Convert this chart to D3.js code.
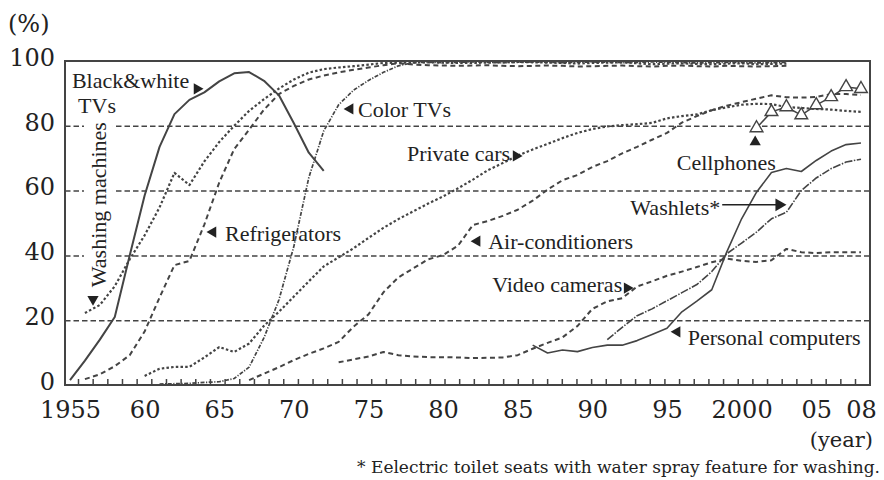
<!DOCTYPE html>
<html>
<head>
<meta charset="utf-8">
<script src="https://cdn.jsdelivr.net/npm/d3@7"></script>
<style>
  body { margin: 0; background: #fff; }
  svg text { fill: #222; }
</style>
</head>
<body>
<div id="chart"></div>
<script>
// ---- data (diffusion rate, %) ----
const firstYear = 1955;
const lastYear = 2008;
const yTicks = [0, 20, 40, 60, 80, 100];
const yearLabels = { 1955: "1955", 1960: "60", 1965: "65", 1970: "70", 1975: "75", 1980: "80",
                     1985: "85", 1990: "90", 1995: "95", 2000: "2000", 2005: "05", 2008: "08" };

const bwTvStart = 1955;
const bwTvValues = [1.5, 7.5, 14, 21, 40, 58.5, 73.5, 83.6, 88, 90.3, 93.7, 96.2, 96.6, 93.9,
  89.4, 80.8, 71.7, 66.1];

const washerStart = 1956;
const washerValues = [22.2, 24.7, 30.5, 38.8, 46.2, 54.8, 65.5, 61.7, 69, 75, 80, 84.6, 88.2,
  91.5, 94.3, 96.4, 97.5, 98, 98.4, 98.9, 99.4, 99.5, 99.5, 99.6, 99.5, 99.4, 99.4, 99.5, 99.6,
  99.7, 99.6, 99.5, 99.4, 99.2, 99.4, 99.5, 99.6, 99.3, 99.0, 99.2, 99.3, 99.1, 99.0, 99.2, 99.3,
  99.0, 99.1, 99.2];

const fridgeStart = 1956;
const fridgeValues = [1.8, 3.3, 5.8, 9.2, 16.5, 27, 37, 38.3, 49.5, 62.5, 72.8, 78.8, 85, 89.8,
  92.3, 94.3, 95.5, 96.5, 97.3, 98, 98.7, 99.3, 98.9, 98.7, 98.6, 98.5, 98.6, 98.7, 98.5, 98.4,
  98.5, 98.6, 98.5, 98.3, 98.4, 98.5, 98.6, 98.4, 98.3, 98.5, 98.6, 98.4, 98.3, 98.5, 98.4, 98.3,
  98.4, 98.5];

const colorTvStart = 1961;
const colorTvValues = [0.3, 0.4, 0.5, 0.8, 1, 2, 5.5, 14.6, 26.3, 42.8, 64, 78.4, 86.5, 91, 94,
  96.5, 98.5, 99.5, 99.6, 99.5, 99.6, 99.7, 99.6, 99.5, 99.6, 99.7, 99.6, 99.5, 99.6, 99.7, 99.6,
  99.5, 99.6, 99.7, 99.6, 99.5, 99.4, 99.5, 99.6, 99.5, 99.4, 99.5, 99.6];

const carStart = 1960;
const carValues = [2.8, 5, 5.6, 5.6, 8.5, 11.7, 10.2, 12.8, 18.3, 22.6, 27.3, 32, 36.6, 39.4,
  42.2, 45.4, 48.5, 51.2, 53.6, 56, 58.2, 60.7, 63.4, 66.3, 68.5, 70.8, 72.7, 74.4, 76.2, 77.8,
  79, 79.8, 80.2, 80.5, 80.9, 82.3, 83, 83.5, 84.8, 85.7, 86.5, 86.8, 86.7, 85.8, 85.5, 85.2, 85,
  84.6, 84.3];

const airconStart = 1967;
const airconValues = [1.5, 3.5, 5.5, 7.7, 9.6, 11.3, 13.3, 18, 21.8, 28.6, 33.2, 36, 38.8, 40.1,
  43, 49.4, 50.6, 52.2, 54.1, 56.9, 60.3, 63.2, 64.8, 67.3, 69.1, 71.5, 73.5, 75.7, 77.8, 81, 83,
  84.8, 86.2, 87.3, 88.4, 89.4, 88.8, 88.7, 88.9, 89.8, 89.8, 89.5];

const videoStart = 1973;
const videoValues = [7, 7.9, 8.8, 10.2, 9.2, 8.8, 8.6, 8.6, 8.5, 8.3, 8.4, 8.5, 9.2, 11.2, 13,
  14.7, 18.2, 23.5, 25.8, 26.8, 30.4, 32, 33.7, 35, 36.4, 37.9, 39, 38.3, 38, 38.5, 42, 41, 40.7,
  41, 41, 41];

const pcStart = 1986;
const pcValues = [12.3, 9.9, 10.8, 10.3, 11.6, 12.3, 12.3, 13.7, 15.6, 17.5, 22.6, 25.9, 29.4,
  41, 51.3, 59.5, 65.6, 66.8, 65.9, 69.3, 72.2, 74.2, 74.7];

const washletStart = 1991;
const washletValues = [14, 17.8, 21.4, 23.5, 26, 28.5, 31, 35, 40.5, 43.8, 47.2, 51.3, 53.3, 60,
  63.9, 66.8, 68.8, 69.7];

const cellStart = 2001;
const cellValues = [79.3, 84.3, 85.8, 83.3, 86.4, 88.9, 92, 91.4];

// ---- layout ----
const W = 884, H = 480;
const margin = { top: 61, right: 14, bottom: 95, left: 65 };
const iw = W - margin.left - margin.right;
const ih = H - margin.top - margin.bottom;
const ink = "#444";
const serifNum = "'DejaVu Serif', serif";
const serifTxt = "'Liberation Serif', 'Times New Roman', serif";

// data and year labels
const x = d3.scaleLinear().domain([firstYear, lastYear]).range([5, 796]);
// the small yearly tick marks sit on a slightly narrower span
const xTick = d3.scaleLinear().domain([firstYear, lastYear]).range([13, 790]);
const y = d3.scaleLinear().domain([0, 100]).range([ih, 0]);

const svg = d3.select("#chart").append("svg")
  .attr("width", W).attr("height", H);

const g = svg.append("g").attr("transform", `translate(${margin.left},${margin.top})`);

// grid lines
g.append("g")
  .call(d3.axisLeft(y).tickValues([20, 40, 60, 80]).tickSize(-iw).tickFormat(""))
  .call(a => a.select(".domain").remove())
  .selectAll("line")
  .attr("stroke", ink).attr("stroke-width", 1.5).attr("stroke-dasharray", "5.5,3");

const boxLayer = g.append("g");
const lineLayer = g.append("g");
const noteLayer = g.append("g");

// y labels
g.append("g")
  .call(d3.axisLeft(y).tickValues(yTicks).tickSize(0).tickPadding(10))
  .call(a => a.select(".domain").remove())
  .selectAll("text")
  .attr("dy", "0.18em")
  .attr("font-family", serifNum).attr("font-size", 24).attr("fill", "#333");

// x ticks (inward)
g.append("g")
  .attr("transform", `translate(0,${ih})`)
  .call(d3.axisBottom(xTick).tickValues(d3.range(firstYear, lastYear + 1)).tickSize(-6).tickFormat(""))
  .call(a => a.select(".domain").remove())
  .selectAll("line").attr("stroke", ink).attr("stroke-width", 1.5);

// x labels
g.append("g")
  .attr("transform", `translate(0,${ih})`)
  .call(d3.axisBottom(x).tickValues(Object.keys(yearLabels).map(Number)).tickSize(0).tickPadding(16)
    .tickFormat(d => yearLabels[d]))
  .call(a => a.select(".domain").remove())
  .selectAll("text")
  .attr("font-family", serifNum).attr("font-size", 24).attr("fill", "#333");

// frame
g.append("rect")
  .attr("width", iw).attr("height", ih)
  .attr("fill", "none").attr("stroke", ink).attr("stroke-width", 2);

// series
const series = [
  { start: bwTvStart, values: bwTvValues, dash: null, width: 2 },
  { start: washerStart, values: washerValues, dash: "2.5,2.2", width: 2.2 },
  { start: fridgeStart, values: fridgeValues, dash: "5,3.5", width: 2 },
  { start: colorTvStart, values: colorTvValues, dash: "4,1.5,1.2,1.5", width: 1.7 },
  { start: carStart, values: carValues, dash: "2.5,2.2", width: 2.2 },
  { start: airconStart, values: airconValues, dash: "5,3.5", width: 2 },
  { start: videoStart, values: videoValues, dash: "5,3.5", width: 2 },
  { start: pcStart, values: pcValues, dash: null, width: 1.6 },
  { start: washletStart, values: washletValues, dash: "8,1.5,1.5,1.5", width: 1.6 },
  { start: cellStart, values: cellValues, dash: null, width: 1.5, marker: true }
];

const line = d3.line().x(d => x(d.year)).y(d => y(d.value));

series.forEach(s => {
  const pts = s.values.map((v, i) => ({ year: s.start + i, value: v }));
  lineLayer.append("path")
    .datum(pts)
    .attr("d", line)
    .attr("fill", "none")
    .attr("stroke", ink)
    .attr("stroke-width", s.width)
    .attr("stroke-dasharray", s.dash)
    .attr("stroke-linejoin", "round");
  if (s.marker) {
    lineLayer.selectAll(null)
      .data(pts)
      .enter()
      .append("path")
      .attr("d", d3.symbol().type(d3.symbolTriangle).size(70))
      .attr("transform", d => `translate(${x(d.year)},${y(d.value)})`)
      .attr("fill", "#fff")
      .attr("stroke", ink)
      .attr("stroke-width", 1.4);
  }
});

// annotations (positions in year / % units)
const notes = [
  { text: "Black&white", year: 1955.13, value: 91.7, anchor: "start" },
  { text: "TVs", year: 1955.54, value: 83.9, anchor: "start" },
  { text: "Washing machines", year: 1957.41, value: 30.2, anchor: "start", rotate: true, box: true },
  { text: "Refrigerators", year: 1965.39, value: 44.4, anchor: "start" },
  { text: "Color TVs", year: 1974.3, value: 82.7, anchor: "start" },
  { text: "Private cars", year: 1984.49, value: 69.1, anchor: "end" },
  { text: "Air-conditioners", year: 1983.02, value: 42.0, anchor: "start" },
  { text: "Video cameras", year: 1992.0, value: 28.7, anchor: "end" },
  { text: "Cellphones", year: 1998.97, value: 66.4, anchor: "middle" },
  { text: "Washlets*", year: 1998.57, value: 52.5, anchor: "end" },
  { text: "Personal computers", year: 1996.39, value: 12.3, anchor: "start" }
];

const pointers = [
  { year: 1963.51, value: 91.4, angle: 90 },
  { year: 1956.54, value: 26.5, angle: 180 },
  { year: 1964.58, value: 47.2, angle: -90 },
  { year: 1973.77, value: 85.2, angle: -90 },
  { year: 1984.89, value: 70.7, angle: 90 },
  { year: 1982.28, value: 44.4, angle: -90 },
  { year: 1992.33, value: 29.9, angle: 90 },
  { year: 2000.91, value: 75.0, angle: 0 },
  { year: 1995.68, value: 16.4, angle: -90 }
];

notes.forEach(n => {
  const tr = n.rotate
    ? `translate(${x(n.year)},${y(n.value)}) rotate(-90)`
    : `translate(${x(n.year)},${y(n.value)})`;
  const t = noteLayer.append("text")
    .attr("transform", tr)
    .attr("text-anchor", n.anchor)
    .attr("font-family", serifTxt)
    .attr("font-size", 22)
    .text(n.text);
  if (n.box) {
    const b = t.node().getBBox();
    boxLayer.append("rect")
      .attr("transform", tr)
      .attr("x", b.x - 3).attr("y", b.y - 2)
      .attr("width", b.width + 6).attr("height", b.height + 4)
      .attr("fill", "#fff");
  }
});

noteLayer.selectAll(null)
  .data(pointers)
  .enter()
  .append("path")
  .attr("d", d3.symbol().type(d3.symbolTriangle).size(55))
  .attr("transform", d => `translate(${x(d.year)},${y(d.value)}) rotate(${d.angle})`)
  .attr("fill", "#222");

// Washlets arrow
const arrow = { from: 1998.7, to: 2002.85, value: 55.6 };
noteLayer.append("line")
  .attr("x1", x(arrow.from)).attr("x2", x(arrow.to) - 8)
  .attr("y1", y(arrow.value)).attr("y2", y(arrow.value))
  .attr("stroke", "#222").attr("stroke-width", 1.5);
noteLayer.append("path")
  .attr("d", d3.symbol().type(d3.symbolTriangle).size(70))
  .attr("transform", `translate(${x(arrow.to) - 5},${y(arrow.value)}) rotate(90)`)
  .attr("fill", "#222");

// outer texts
svg.append("text")
  .attr("x", 8).attr("y", 32)
  .attr("font-family", serifNum).attr("font-size", 24).attr("fill", "#333")
  .text("(%)");

svg.append("text")
  .attr("x", 873).attr("y", 447)
  .attr("text-anchor", "end")
  .attr("font-family", serifNum).attr("font-size", 21)
  .text("(year)");

svg.append("text")
  .attr("x", 880).attr("y", 473)
  .attr("text-anchor", "end")
  .attr("font-family", serifNum).attr("font-size", 17)
  .text("* Eelectric toilet seats with water spray feature for washing.");
</script>
</body>
</html>
